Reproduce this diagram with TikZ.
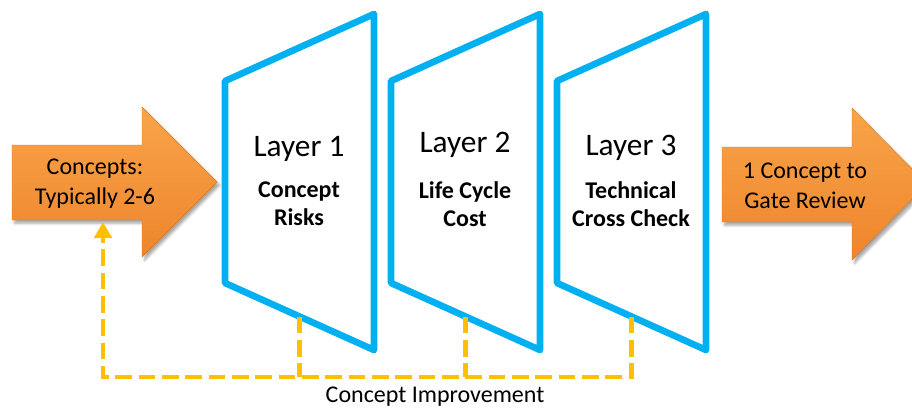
\documentclass[tikz,border=0pt]{standalone}
\usepackage{fontspec}
\setmainfont{Carlito}
\usetikzlibrary{arrows.meta,shadows.blur,calc}
\definecolor{layerblue}{HTML}{00B0F0}
\definecolor{loopgold}{HTML}{FFC000}
\definecolor{arrowtop}{HTML}{F9A44A}
\definecolor{arrowbot}{HTML}{EE852C}
\tikzset{
  layerbox/.style={draw=layerblue, line width=5pt, line join=round, fill=white},
  bigarrow/.style={top color=arrowtop, bottom color=arrowbot, draw=arrowbot!90!black, line width=0.3pt,
    blur shadow={shadow xshift=2pt, shadow yshift=-2.5pt, shadow blur steps=6, shadow opacity=35}},
  feedback/.style={draw=loopgold, line width=3.7pt, dash pattern=on 12.5pt off 5pt},
  layertitle/.style={font=\fontsize{23.5}{28}\selectfont},
  layersub/.style={font=\bfseries\fontsize{18}{21}\selectfont, align=center},
  arrowtext/.style={font=\fontsize{18}{22.5}\selectfont, align=center},
  looptext/.style={font=\fontsize{18}{22}\selectfont},
}
\begin{document}
\begin{tikzpicture}[x=0.75pt, y=-0.75pt]
  \useasboundingbox (0,0) rectangle (912,410);
  \clip (0,0) rectangle (912,410);

  % input arrow
  \path[bigarrow] (12,145) -- (142,145) -- (142,107) -- (217,182) -- (142,257)
    -- (142,220) -- (12,220) -- cycle;
  \node[arrowtext] (inlabel) at (95,184) {Concepts:\\Typically 2-6};
  \coordinate (inbase) at (103,222);

  % output arrow
  \path[bigarrow] (722,147) -- (852,147) -- (852,108) -- (927,184) -- (852,260)
    -- (852,222) -- (722,222) -- cycle;
  \node[arrowtext] (outlabel) at (805,186) {1 Concept to\\Gate Review};

  % three filter layers
  \foreach \i/\dx in {1/0, 2/166, 3/332} {
    \coordinate (tl\i) at (225+\dx,81);
    \coordinate (tr\i) at (374+\dx,14);
    \coordinate (br\i) at (374+\dx,350);
    \coordinate (bl\i) at (225+\dx,283);
    \draw[layerbox] (tl\i) -- (tr\i) -- (br\i) -- (bl\i) -- cycle;
    \coordinate (foot\i) at ($(bl\i)!0.5!(br\i)$);
  }
  \node[layertitle] (t1) at (299,149) {Layer 1};
  \node[layersub]   (s1) at (299,204) {Concept\\Risks};
  \node[layertitle] (t2) at (465,145) {Layer 2};
  \node[layersub]   (s2) at (465,204) {Life Cycle\\Cost};
  \node[layertitle] (t3) at (631,148) {Layer 3};
  \node[layersub]   (s3) at (631,204) {Technical\\Cross Check};

  % feedback loop
  \coordinate (loopcorner) at (103,377);
  \draw[feedback, -{Triangle[width=13pt,length=12pt]}]
    (foot3) |- (loopcorner) -- (inbase);
  \draw[feedback] (foot1) -- (foot1 |- loopcorner);
  \draw[feedback] (foot2) -- (foot2 |- loopcorner);
  \node[looptext] (loop) at (435,397) {Concept Improvement};
\end{tikzpicture}
\end{document}
